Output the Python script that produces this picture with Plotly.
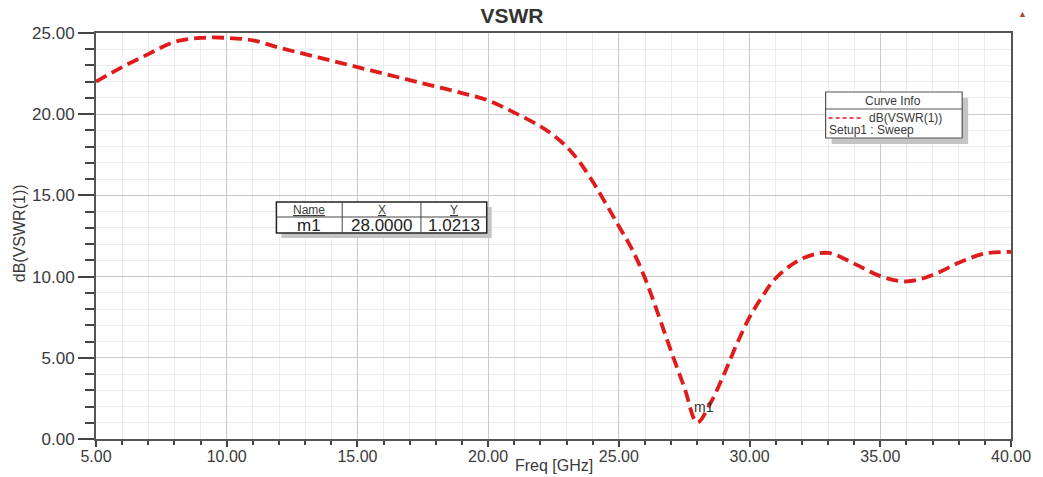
import plotly.graph_objects as go

# ---- data ----
freq_ghz = [5, 6, 7, 8, 9, 10, 11, 12, 13, 14, 15, 16, 17, 18, 19, 20, 21, 22, 22.5, 23, 23.5,
            24, 24.5, 25, 25.5, 26, 26.5, 27, 27.5, 28, 28.5, 29, 29.5, 30, 30.5, 31,
            32, 33, 34, 35, 36, 37, 38, 39, 40]
vswr_db = [22.0, 22.9, 23.7, 24.45, 24.7, 24.7, 24.55, 24.1, 23.7, 23.3, 22.9, 22.5, 22.1,
           21.7, 21.3, 20.85, 20.1, 19.25, 18.7, 18.0, 17.05, 15.85, 14.5, 13.1, 11.7, 9.9, 7.7,
           5.4, 3.2, 1.0213, 2.2, 3.9, 5.8, 7.5, 8.8, 9.9, 11.1, 11.46, 10.8, 10.03, 9.7,
           10.1, 10.85, 11.42, 11.52]
x_tick_vals = [5, 10, 15, 20, 25, 30, 35, 40]
y_tick_vals = [0, 5, 10, 15, 20, 25]
marker_name = "m1"
marker_x = 28.0
marker_y = 1.0213
legend_title = "Curve Info"
legend_trace = "dB(VSWR(1))"
legend_setup = "Setup1 : Sweep"

W, H = 1043, 477
L, R, T, B = 96, 1014, 33, 439
FONT = "Arial, Liberation Sans, sans-serif"
TXT = "#3a3a3a"


def px(x):
    return (x - L) / (R - L)


def py(y):
    return (B - y) / (B - T)


def note(x, y, text, size, color=TXT, xanchor="center", **kw):
    return dict(xref="paper", yref="paper", x=px(x), y=py(y), text=text, showarrow=False,
                xanchor=xanchor, yanchor="middle",
                font=dict(family=FONT, size=size, color=color), **kw)


fig = go.Figure()
fig.add_trace(go.Scatter(
    x=freq_ghz, y=vswr_db, mode="lines", line_shape="spline",
    line=dict(color="#e01b1b", width=3.8, dash="12px,6px"),
    showlegend=False, hoverinfo="x+y"))

shapes = []
annotations = []

# Curve info box (shadow + box + header line + legend sample)
bx0, bx1, by0, by1 = 828, 965, 92, 138
shapes.append(dict(type="rect", xref="paper", yref="paper", x0=px(bx0 + 6), x1=px(bx1 + 6),
                   y0=py(by0 + 6), y1=py(by1 + 6), fillcolor="#c4c4c4", line=dict(width=0)))
shapes.append(dict(type="rect", xref="paper", yref="paper", x0=px(bx0), x1=px(bx1),
                   y0=py(by0), y1=py(by1), fillcolor="white", line=dict(color="#555", width=1.2)))
shapes.append(dict(type="line", xref="paper", yref="paper", x0=px(bx0), x1=px(bx1),
                   y0=py(109), y1=py(109), line=dict(color="#555", width=1)))
shapes.append(dict(type="line", xref="paper", yref="paper", x0=px(831), x1=px(864),
                   y0=py(118), y1=py(118), line=dict(color="#e01b1b", width=1.5, dash="4px,3px")))
annotations.append(note(896, 101, legend_title, 12))
annotations.append(note(870, 118, legend_trace, 12, xanchor="left"))
annotations.append(note(829, 129.5, legend_setup, 12, xanchor="left"))

# Marker table
tx0, tx1, ty0, ty1, tmid = 277, 488, 202, 233, 217
cols = [277, 343, 422, 488]
shapes.append(dict(type="rect", xref="paper", yref="paper", x0=px(tx0 + 5), x1=px(tx1 + 5),
                   y0=py(ty0 + 5), y1=py(ty1 + 5), fillcolor="#c4c4c4", line=dict(width=0)))
shapes.append(dict(type="rect", xref="paper", yref="paper", x0=px(tx0), x1=px(tx1),
                   y0=py(ty0), y1=py(ty1), fillcolor="white", line=dict(color="#222", width=1.5)))
shapes.append(dict(type="line", xref="paper", yref="paper", x0=px(tx0), x1=px(tx1),
                   y0=py(tmid), y1=py(tmid), line=dict(color="#444", width=1)))
for cx in cols[1:3]:
    shapes.append(dict(type="line", xref="paper", yref="paper", x0=px(cx), x1=px(cx),
                       y0=py(ty0), y1=py(ty1), line=dict(color="#444", width=1)))
heads = ["<u>Name</u>", "<u>X</u>", "<u>Y</u>"]
vals = [marker_name, f"{marker_x:.4f}", f"{marker_y:.4f}"]
for i in range(3):
    cxm = (cols[i] + cols[i + 1]) / 2
    annotations.append(note(cxm, 209.5, heads[i], 12))
    annotations.append(note(cxm, 225.5, vals[i], 17, color="#222"))

# marker label
annotations.append(dict(x=marker_x + 0.25, y=marker_y + 0.95, text=marker_name, showarrow=False,
                        xanchor="center", yanchor="middle",
                        font=dict(family=FONT, size=14, color="#333")))

# axis titles, corner triangle
annotations.append(note(555, 465, "Freq [GHz]", 16))
annotations.append(note(20, 233, "dB(VSWR(1))", 16, textangle=-90))
annotations.append(note(1026, 14, "▲", 9, color="#b04040"))

fig.update_layout(
    width=W, height=H,
    margin=dict(l=L, r=W - R, t=T, b=H - B, pad=0),
    paper_bgcolor="white", plot_bgcolor="white",
    title=dict(text="<b>VSWR</b>", x=512 / W, xanchor="center", y=1 - 16 / H, yanchor="middle",
               font=dict(family=FONT, size=21, color="#333")),
    shapes=shapes, annotations=annotations,
    xaxis=dict(range=[5, 40], tickvals=x_tick_vals, tickformat=".2f",
               ticks="outside", ticklen=6, tickwidth=1.5, tickcolor="#444",
               ticklabelstandoff=-4,
               showgrid=True, gridcolor="#c9c9c9", gridwidth=1,
               minor=dict(dtick=1, ticks="outside", ticklen=4, tickcolor="#444",
                          showgrid=True, gridcolor="#ececec"),
               showline=True, linecolor="#555", linewidth=2, mirror=True,
               zeroline=False, tickfont=dict(family=FONT, size=16, color=TXT)),
    yaxis=dict(range=[0, 25], tickvals=y_tick_vals, tickformat=".2f",
               ticks="outside", ticklen=16, tickwidth=1.5, tickcolor="#444",
               showgrid=True, gridcolor="#c9c9c9", gridwidth=1,
               minor=dict(dtick=1, ticks="outside", ticklen=9, tickcolor="#444",
                          showgrid=True, gridcolor="#ececec"),
               showline=True, linecolor="#555", linewidth=2, mirror=True,
               zeroline=False, tickfont=dict(family=FONT, size=17, color=TXT)),
)

fig.write_html("out.html")
